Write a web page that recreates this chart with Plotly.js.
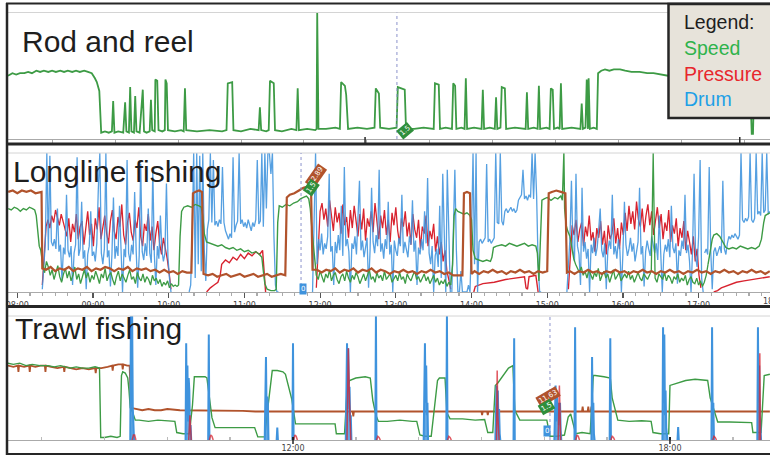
<!DOCTYPE html>
<html><head><meta charset="utf-8">
<script src="https://cdn.plot.ly/plotly-3.0.1.min.js"></script>
<style>html,body{margin:0;padding:0;background:#fff;}#chart{width:770px;height:455px;}</style>
</head><body><div id="chart"></div>
<script>
// ---------- Panel 1: Rod and reel (speed only) ----------
var rrTime = [7.30,7.37,7.43,7.49,7.56,7.62,7.68,7.75,7.81,7.87,7.94,8.00,8.06,8.13,8.19,8.25,8.32,8.38,8.44,8.51,8.57,8.63,8.68,8.71,8.75,8.78,
8.84,8.90,8.95,8.97,8.99,
9.05,9.13,9.16,9.18,
9.22,9.24,9.26,
9.30,9.32,9.34,
9.39,9.44,9.46,
9.50,9.55,9.57,9.59,
9.63,9.64,9.67,9.69,
9.75,9.79,9.80,9.82,9.84,
9.95,10.05,10.09,10.11,10.13,
10.30,10.50,10.70,10.77,10.79,10.86,10.88,
11.00,11.15,11.28,11.30,11.32,
11.40,11.44,11.46,11.52,11.54,
11.65,11.80,11.88,11.90,11.92,
12.05,12.18,12.20,12.21,12.23,
12.35,12.50,12.57,12.59,12.65,12.67,12.70,
12.85,13.00,13.12,13.14,13.19,13.21,
13.35,13.47,13.49,13.60,13.62,
13.75,13.90,14.06,14.08,14.14,14.16,
14.25,14.35,14.37,14.40,14.42,
14.50,14.55,14.57,14.59,
14.70,14.82,14.84,14.86,
14.95,15.03,15.05,15.07,
15.12,15.14,15.19,15.21,
15.35,15.52,15.54,15.56,
15.65,15.71,15.73,15.75,
15.85,15.90,15.92,15.95,15.97,
16.03,16.06,16.08,16.10,
16.25,16.39,16.41,16.43,
16.47,16.49,16.51,16.52,16.54,
16.60,16.65,16.67,
16.72,16.78,16.85,16.92,17.02,17.10,17.20,17.33,17.45,17.55,17.65,17.78,17.90,18.05,18.20,18.35,18.50,18.65,18.80,18.95,19.08,19.11,19.13,19.15,19.18,19.25,19.40];
var rrSpeed = [50,52,51,52,52,53,52,54,53,54,53,54,53,54,53,54,53,54,53,54,53,52,48,45,38,5,
6,5,6,30,5,
6,5,29,6,
5,41,6,
5,34,6,
5,39,6,
5,6,31,7,
6,47,46,7,
6,7,47,44,7,
6,7,6,40,7,
6,7,6,7,44,45,7,
6,8,7,25,7,
6,7,46,44,7,
6,8,7,40,7,
8,7,8,100,8,
8,9,8,45,42,35,8,
9,8,9,40,36,9,
8,9,41,39,8,
8,9,8,44,43,8,
9,8,44,42,8,
9,8,48,8,
9,8,39,8,
9,8,33,8,
9,41,40,8,
9,8,37,8,
9,8,42,8,
9,8,40,39,8,
9,8,44,8,
9,8,28,8,
9,47,8,48,8,
9,8,52,
54,55,54,55,55,54,53,53,52,52,51,50,51,50,51,50,51,50,50,51,50,4,4,50,51,50,50];

// ---------- Panel 2: Longline fishing ----------
var llTicks = [8,9,10,11,12,13,14,15,16,17];
var llTickText = ["08:00","09:00","10:00","11:00","12:00","13:00","14:00","15:00","16:00","17:00"];
var sampleStep = 0.025;   // hours between samples of noisy stretches
var drumStep = 0.02;

// pressure, noisy stretches (start hour, values)
var llPressA0 = 8.33;
var llPressA = [5,28,47,52,46,55,50,59,54,48,56,51,46,40,53,36,49,43,56,38,47,51,34,45,58,41,49,33,53,45,61,38,48,55,42,35,51,59,44,38,54,47,63,41,34,50,57,43,37,52,46,61,40,33,49,44,56,37,47,30,42,51,35,27,39,32,24,14,2];
var llPressC0 = 11.95;
var llPressC = [3,35,58,64,52,60,47,66,55,44,61,50,57,42,63,48,54,39,59,46,62,51,40,56,45,60,37,53,47,58,43,64,49,38,55,46,59,41,52,36,57,48,61,44,35,53,47,58,40,50,34,56,45,39,52,31,47,42,55,33,44,38,49,29,40,27,36,22,30,15,9,2];
var llPressE0 = 15.28;
var llPressE = [2,30,48,41,52,36,45,50,33,47,40,55,37,43,29,46,39,51,34,44,27,48,38,42,53,35,46,31,50,41,57,44,62,49,58,45,65,52,47,60,43,55,63,48,58,41,53,61,46,56,38,50,44,59,36,48,42,53,33,46,39,51,30,44,36,27,40,22,31,12,3];
// pressure, slow ramps
var llPressRampT = [10.50,10.55,10.60,10.65,10.68,10.70,10.75,10.80,10.85,10.90,10.95,11.00,11.05,11.10,11.15,11.20,11.24,11.26,11.28,null,
14.03,14.05,14.15,14.30,14.45,14.60,14.70,14.72,14.74,14.76,14.85,14.88,null,
17.20,17.25,17.30,17.40,17.50,17.60,17.70,17.80,17.90,17.94];
var llPressRamp = [0,3,5,7,12,20,23,21,25,23,27,24,28,26,29,27,30,12,0,null,
0,4,6,7,9,10,11,3,2,11,12,0,null,
0,1,3,5,7,8,9,10,11,11];

// drum, noisy stretches
var llDrumA0 = 8.33;
var llDrumA = [2,20,35,100,30,98,36,33,38,31,60,29,34,8,32,27,70,30,25,33,5,28,34,97,26,31,65,24,30,2,27,33,58,26,29,22,35,74,100,28,20,31,100,25,30,4,27,68,24,33,26,62,29,0,31,25,95,28,22,34,27,72,30,3,26,92,29,23,35,26,60,28,21,88,27,5,33,24,55,30,22,28,78,25,10,0];
var llDrumB0 = 10.27;
var llDrumB = [0,5,40,100,10,100,20,98,15,100,30,8,45,52,100,50,95,48,51,47,52,49,90,50,44,41,38,42,39,97,43,48,51,100,49,52,47,50,46,52,48,44,50,47,52,95,49,51,100,47,100,60,100,100,85,100,40,5,0,0];
var llDrumC0 = 11.90;
var llDrumC = [0,60,100,20,38,30,42,27,35,31,40,85,29,33,5,36,28,41,30,62,26,90,33,38,29,0,35,31,40,27,57,80,30,37,25,34,39,3,30,75,36,28,41,33,88,29,35,24,38,31,65,27,34,0,37,30,26,39,33,70,28,36,31,25,40,34,66,29,37,5,32,27,38,30,58,35,82,28,20,33,0,26,31,18,62,10,85,40,0,88,30,0];
var llDrumD0 = 13.74;
var llDrumD = [0,40,88,30,0,0,15,0,0,0,0,5,0,40,100,20,100,0,36,38,35,37,39,92,36,38,35,37,39,100,50,49,100,51,48,58,60,57,59,61,58,60,57,59,66,68,70,88,67,69,66,70,68,100,67,100,69,20,0,0];
var llDrumE0 = 15.26;
var llDrumE = [0,25,38,80,30,22,85,33,27,5,75,29,36,24,31,0,34,28,39,26,32,45,60,30,25,35,2,29,37,31,70,27,33,24,38,30,0,28,65,34,26,31,39,29,35,22,30,36,75,27,33,4,29,37,31,26,40,33,28,35,23,55,31,0,27,34,29,38,25,62,32,28,35,6,30,26,37,31,70,28,34,22,0,30,85,25,18,40,95,10,0];
var llDrumF0 = 17.08;
var llDrumF = [28,31,27,90,30,2,29,32,26,30,33,28,80,31,27,35,40,38,41,39,42,40,38,41,100,52,50,53,51,54,100,52,50,53,100,56,58,55,100,57,59,100,56,58];

// speed
var llSpeedStepT = [7.88,7.92,7.96,8.00,8.04,8.08,8.12,8.16,8.20,8.23,8.25,8.27,8.29,8.31,8.33,8.36,null,
10.11,10.13,10.15,10.17,10.20,10.25,10.30,10.35,10.40,10.43,10.45,10.47,10.50,10.55,10.60,10.65,10.70,10.75,10.80,10.85,10.90,10.95,11.00,11.05,11.10,11.15,11.20,11.23,11.25,11.27,11.30,11.35,11.40,11.42,11.44,11.46,11.50,11.55,11.60,11.65,11.70,11.74,11.78,11.82,11.85,11.87,11.90,11.93,11.95,null,
13.725,13.75,13.77,13.79,13.82,13.86,13.90,13.94,13.98,14.00,14.02,14.05,14.10,14.15,14.20,14.25,14.27,14.29,14.33,14.40,14.45,14.50,14.55,14.60,14.65,14.70,14.75,14.80,14.85,14.87,14.89,14.91,14.93,14.96,15.00,15.05,15.10,15.14,15.18,15.20,15.22,15.23,15.25,15.27,15.30,null,
17.125,17.15,17.18,17.20,17.24,17.28,17.32,17.36,17.40,17.45,17.50,17.55,17.60,17.65,17.70,17.75,17.80,17.83,17.86,17.88,17.91,17.94];
var llSpeedStep = [60,59,61,60,58,60,59,61,60,59,55,42,33,30,22,14,null,
4,5,40,58,61,62,61,63,62,61,55,42,36,35,34,33,34,32,31,32,30,31,29,30,28,29,27,25,15,6,2,1,1,2,50,62,61,63,62,64,65,67,68,69,67,60,40,22,12,null,
5,20,55,60,58,57,56,57,55,52,30,24,23,22,23,22,25,32,33,34,33,35,34,33,34,35,33,34,33,28,8,40,66,67,68,66,68,67,69,66,100,60,48,44,40,null,
20,28,38,41,42,40,36,32,31,32,31,33,32,31,32,31,33,38,50,55,56,57];
var llSpeedA0 = 8.36;
var llSpeedA = [14,22,18,12,16,9,14,19,11,7,13,17,10,15,8,12,18,9,13,6,11,16,10,14,7,12,9,15,11,6,13,10,17,8,12,14,9,5,11,15,8,13,10,7,12,16,9,11,6,14,10,8,13,7,11,9,5,12,8,10,6,9,4,7,5,8,3,6,4,5,4];
var llSpeedC0 = 11.95;
var llSpeedC = [12,9,15,11,7,13,10,16,8,12,14,9,6,11,13,8,15,10,7,12,9,14,11,6,10,13,8,12,16,9,11,7,14,10,12,8,15,9,11,13,7,10,12,8,14,9,11,6,13,10,8,12,15,9,11,7,10,13,8,11,6,9,12,7,10,5,8,6,9,4,7,5];
var llSpeedE0 = 15.30;
var llSpeedE = [40,30,24,20,17,14,18,12,15,10,16,13,9,14,11,17,8,12,15,10,13,7,11,16,9,12,14,8,11,13,10,15,9,12,7,11,14,10,8,13,11,9,12,15,100,10,7,13,11,9,14,8,12,10,6,11,9,13,7,10,8,12,5,9,11,7,6,10,5,8,4,7,12,20];

// line (brown) channel
var llLineT = [7.88,7.94,8.00,8.06,8.12,8.18,8.24,8.30,8.32,8.33,
8.38,8.44,8.50,8.56,8.62,8.68,8.74,8.80,8.86,8.92,8.98,9.04,9.10,9.16,9.22,9.28,9.34,9.40,9.46,9.52,9.58,9.64,9.70,9.76,9.82,9.88,9.94,10.00,10.06,10.12,10.18,10.24,10.30,10.32,
10.35,10.40,10.44,10.46,
10.52,10.58,10.64,10.70,10.76,10.82,10.88,10.94,11.00,11.06,11.12,11.18,11.24,11.30,11.36,11.42,11.48,11.54,11.56,
11.60,11.66,11.72,11.78,11.84,11.88,11.90,
11.96,12.02,12.08,12.14,12.20,12.26,12.32,12.38,12.44,12.50,12.56,12.62,12.68,12.74,12.80,12.86,12.92,12.98,13.04,13.10,13.16,13.22,13.28,13.34,13.40,13.46,13.52,13.58,13.64,13.70,13.76,13.82,13.88,13.90,
13.94,13.98,14.00,
14.04,14.10,14.16,14.22,14.28,14.34,14.40,14.46,14.52,14.58,14.64,14.70,14.76,14.82,14.88,14.94,15.00,15.02,
15.06,15.12,15.18,15.24,15.26,
15.30,15.36,15.42,15.48,15.54,15.60,15.66,15.72,15.78,15.84,15.90,15.96,16.02,16.08,16.14,16.20,16.26,16.32,16.38,16.44,16.50,16.56,16.62,16.68,16.74,16.80,16.86,16.92,16.98,17.04,17.10,17.16,17.22,17.28,17.34,17.40,17.46,17.52,17.58,17.64,17.70,17.76,17.82,17.88,17.94];
var llLine = [72,73,71,73,72,73,71,72,72,17,
16,18,15,17,16,18,15,17,16,18,15,17,16,18,17,15,17,16,18,15,17,16,17,15,16,14,16,14,15,13,15,14,14,71,
72,73,72,13,
12,13,11,12,13,11,12,13,11,12,13,11,12,13,11,12,13,12,68,
70,71,73,75,76,75,16,
16,14,16,15,17,14,16,15,17,14,16,15,17,14,16,15,13,15,14,16,14,15,13,15,14,16,14,15,13,14,12,12,12,71,
72,71,13,
15,13,15,14,16,14,15,13,15,14,16,14,15,13,15,14,15,71,
72,73,72,71,14,
15,13,15,14,16,14,15,13,15,14,16,14,15,13,15,14,16,14,15,13,15,14,16,14,15,13,15,14,16,14,15,13,15,14,16,14,15,13,15,14,16,14,15,13,15];

// ---------- Panel 3: Trawl fishing ----------
var twTicks = [12,18];
var twTickText = ["12:00","18:00"];
var twSpeedT = [7.46,7.55,7.65,7.75,7.85,7.97,8.10,8.20,8.30,8.45,8.55,8.65,8.75,8.85,8.92,
8.94,9.00,9.10,9.20,9.25,
9.27,9.29,9.33,9.37,9.39,9.41,9.45,9.49,
9.55,9.70,9.85,10.00,10.12,
10.15,10.25,10.35,
10.40,10.43,10.50,10.60,10.63,10.66,10.71,10.76,
10.90,11.10,11.30,11.39,
11.44,11.55,11.60,11.67,11.75,11.84,11.88,11.98,12.04,
12.20,12.40,12.60,12.67,
12.69,12.82,12.86,12.90,13.00,13.15,13.23,13.27,13.32,13.36,
13.50,13.70,13.90,13.97,
14.02,14.10,14.20,14.30,14.33,14.42,14.45,14.50,
14.70,14.90,15.05,
15.10,15.18,15.22,15.26,15.34,15.43,15.50,15.53,15.61,
15.75,15.90,16.04,
16.09,16.20,16.32,16.38,16.42,16.50,16.60,16.73,
16.78,16.81,16.95,17.05,17.08,17.17,
17.35,17.55,17.70,
17.73,17.85,17.98,18.00,18.12,18.25,18.40,18.50,18.60,18.64,18.76,
18.95,19.15,19.30,
19.32,19.45,19.50,19.59];
var twSpeed = [62,61,62,60,61,60,60,59,60,58,59,58,58,59,58,
2,2,3,2,3,
52,55,54,50,40,26,22,16,
16,15,16,15.5,15,
6,5,5,
28,51,51,51,50,36,18,10,
10,9.5,10,10,
2.5,2.5,26,56,56,55,53,33,13,
13,13.5,13,13,
5,5,40,48,50,51,50,32,20,15,
15,16,15,15,
4,3,3,48,50,50,22,17,
17,16,16.5,
6,6,44,46,52,58,60,24,16,
16,16.5,16,
3,3,4,18.5,21,5,6,5,
52,52,51,50,34,16,
15,15.5,15,
6,5,5,44,46,48,49,48.5,48,34,14.5,
14.5,14.5,14,
6,6,52,53];
var twLineT = [7.46,7.55,7.62,7.63,7.64,7.72,7.80,7.81,7.82,7.90,7.98,8.05,8.06,8.07,8.15,8.25,8.35,8.36,8.37,8.45,8.55,8.65,8.75,8.85,8.86,8.87,8.95,9.05,9.12,9.13,9.14,9.22,9.28,9.29,9.30,9.36,9.40,
9.42,9.50,9.60,9.70,9.80,9.90,10.00,10.20,10.40,10.60,10.80,11.00,11.20,11.40,11.60,12.00,12.40,12.84,12.85,12.86,12.95,12.96,12.97,13.40,14.00,14.40,15.00,15.01,15.02,15.09,15.10,15.11,15.60,16.20,16.60,16.61,16.62,16.69,16.70,16.71,16.74,16.75,16.76,17.20,17.80,18.40,19.00,19.59];
var twLine = [60,59,60,55,60,59,60,55,60,59,60,60,55,60,59,58,59,55,59,58,57,58,57,58,54,58,58,59,60,56,60,61,61,57,61,60,60,
26,25,24,25,24,24,25,24,24,24,23.5,24,23.5,23,23,23,23,23,19,23,23,19,23,23,23,23,23,20,23,23,20,23,23,23,23,27,23,23,27,23,23,27,23,23,23,23,23,23];
var twDrumT = [9.41,9.42,9.43,9.44,9.45,9.46,9.47,null,
10.29,10.30,10.31,10.32,10.33,10.34,10.35,10.36,10.37,10.38,null,
10.65,10.66,10.67,null,
11.55,11.56,11.57,11.58,11.59,11.60,11.61,null,
11.74,11.75,11.76,null,
11.99,12.00,12.01,null,
12.84,12.85,12.86,12.87,12.88,12.89,12.90,12.91,12.92,12.93,null,
13.31,13.32,13.33,null,
14.08,14.09,14.10,14.11,14.12,14.13,14.14,14.15,null,
14.44,14.45,14.46,null,
15.22,15.23,15.24,15.25,15.26,15.27,15.28,15.29,15.30,null,
15.51,15.52,15.53,null,
16.16,16.17,16.18,16.19,16.20,16.21,16.22,16.23,16.24,16.25,16.26,16.27,null,
16.48,16.49,16.50,null,
16.75,16.76,16.77,16.78,16.79,16.80,null,
17.04,17.05,17.06,null,
17.88,17.89,17.90,17.91,17.92,17.93,17.94,17.95,17.96,null,
18.12,18.13,18.14,null,
18.66,18.67,18.68,18.69,18.70,null,
19.39,19.40,19.41,19.42,19.43,19.44,19.45];
var twDrum = [0,100,30,100,26,10,0,null,
0,78,20,60,15,50,40,8,12,0,null,
0,85,0,null,
0,40,67,20,35,30,0,null,
0,10,0,null,
0,78,0,null,
0,60,78,25,74,40,43,15,20,0,null,
0,100,0,null,
0,50,78,30,60,20,30,0,null,
0,100,0,null,
0,35,44,20,40,15,25,5,0,null,
0,82,0,null,
0,30,44,15,38,20,30,12,25,30,8,0,null,
0,91,0,null,
0,67,20,30,5,0,null,
0,82,0,null,
0,91,30,85,20,40,10,5,0,null,
0,10.5,0,null,
0,91,15,30,0,null,
0,91,30,60,20,8,0];
var twPressT = [9.44,9.46,9.48,9.50,null,10.34,10.36,10.38,null,10.67,10.69,10.71,10.73,null,12.01,12.03,12.05,12.07,null,12.86,12.88,12.90,12.92,null,13.33,13.35,13.37,13.39,null,14.46,14.48,14.50,14.52,null,15.24,15.25,15.26,15.28,null,16.22,16.24,16.26,null,16.50,16.52,16.54,16.56,null,17.06,17.08,17.10,17.12,null,18.68,18.70,18.72,18.74,null,19.42,19.43,19.44];
var twPress = [0,4,4,0,null,0,20,0,null,0,4,3,0,null,0,4,3,0,null,0,74,30,0,null,0,3,2,0,null,0,3,2,0,null,0,56,20,0,null,0,44,0,null,0,4,3,0,null,0,3,2,0,null,0,3,2,0,null,0,70,0];

// ---------- drawing ----------
var C = {speed:'#3d9b45', press:'#d8232f', drum:'#3f93dd', line:'#b1532c'};
var W = 770, H = 455, L = 8;
function X(px){ return (px - L) / (W - L); }
function Y(py){ return 1 - py / H; }

function ln(xa, ya, x, y, color, width, extra){
  var t = {type:'scatter', mode:'lines', xaxis:xa, yaxis:ya, x:x, y:y,
    line:{color:color, width:width}, hoverinfo:'skip', connectgaps:false};
  if (extra) for (var k in extra) t[k] = extra[k];
  return t;
}
function reg(xa, ya, x0, dx, y, color, width, extra){
  var t = {type:'scatter', mode:'lines', xaxis:xa, yaxis:ya, x0:x0, dx:dx, y:y,
    line:{color:color, width:width}, hoverinfo:'skip'};
  if (extra) for (var k in extra) t[k] = extra[k];
  return t;
}

var traces = [
  ln('x','y', rrTime, rrSpeed, C.speed, 1.8),

  reg('x2','y2', llPressA0, sampleStep, llPressA, C.press, 1.3),
  reg('x2','y2', llPressC0, sampleStep, llPressC, C.press, 1.3),
  reg('x2','y2', llPressE0, sampleStep, llPressE, C.press, 1.3),
  ln('x2','y2', llPressRampT, llPressRamp, C.press, 1.4),
  reg('x2','y2', llDrumA0, drumStep, llDrumA, C.drum, 1.3, {opacity:0.88}),
  reg('x2','y2', llDrumB0, drumStep, llDrumB, C.drum, 1.3, {opacity:0.88}),
  reg('x2','y2', llDrumC0, drumStep, llDrumC, C.drum, 1.3, {opacity:0.88}),
  reg('x2','y2', llDrumD0, drumStep, llDrumD, C.drum, 1.3, {opacity:0.88}),
  reg('x2','y2', llDrumE0, drumStep, llDrumE, C.drum, 1.3, {opacity:0.88}),
  reg('x2','y2', llDrumF0, drumStep, llDrumF, C.drum, 1.3, {opacity:0.88}),
  ln('x2','y2', llSpeedStepT, llSpeedStep, C.speed, 1.4),
  reg('x2','y2', llSpeedA0, sampleStep, llSpeedA, C.speed, 1.3),
  reg('x2','y2', llSpeedC0, sampleStep, llSpeedC, C.speed, 1.3),
  reg('x2','y2', llSpeedE0, sampleStep, llSpeedE, C.speed, 1.3),
  ln('x2','y2', llLineT, llLine, C.line, 2.2),

  ln('x3','y3', twLineT, twLine, C.line, 1.8),
  ln('x3','y3', twSpeedT, twSpeed, C.speed, 1.4),
  ln('x3','y3', twDrumT, twDrum, C.drum, 2, {fill:'tozeroy', fillcolor:'rgba(63,147,221,0.8)'}),
  ln('x3','y3', twPressT, twPress, C.press, 1.5, {opacity:0.75})
];

var R1 = [7.30, 19.40], R2 = [7.877, 17.943], R3 = [7.464, 19.592];
var baseX = {showgrid:false, zeroline:false, showline:true, linecolor:'#aaaaaa', linewidth:1,
  fixedrange:true, tickfont:{family:'DejaVu Sans', size:8, color:'#444'}};
function ax(o){ var r = {}; for (var k in baseX) r[k] = baseX[k]; for (var k2 in o) r[k2] = o[k2]; return r; }
var baseY = {range:[0,100], showgrid:false, zeroline:false, showticklabels:false, ticks:'', showline:false, fixedrange:true};
function ay(o){ var r = {}; for (var k in baseY) r[k] = baseY[k]; for (var k2 in o) r[k2] = o[k2]; return r; }

var dark = '#262626';
var shapes = [
  // light top lines of each panel
  {type:'line', xref:'paper', yref:'paper', x0:0, x1:1, y0:Y(12.5), y1:Y(12.5), line:{color:'#d4d4d4', width:1}},
  {type:'line', xref:'paper', yref:'paper', x0:0, x1:1, y0:Y(153), y1:Y(153), line:{color:'#d4d4d4', width:1}},
  {type:'line', xref:'paper', yref:'paper', x0:0, x1:1, y0:Y(316), y1:Y(316), line:{color:'#d4d4d4', width:1}},
  // dark frame
  {type:'line', xref:'paper', yref:'paper', x0:X(7), x1:X(7), y0:Y(3), y1:Y(455), line:{color:dark, width:2.5}},
  {type:'line', xref:'paper', yref:'paper', x0:X(6), x1:X(772), y0:Y(3.5), y1:Y(3.5), line:{color:dark, width:2}},
  {type:'line', xref:'paper', yref:'paper', x0:X(6), x1:X(772), y0:Y(144), y1:Y(144), line:{color:dark, width:3}},
  {type:'line', xref:'paper', yref:'paper', x0:X(6), x1:X(772), y0:Y(306.5), y1:Y(306.5), line:{color:dark, width:3}},
  {type:'line', xref:'paper', yref:'paper', x0:X(6), x1:X(772), y0:Y(454), y1:Y(454), line:{color:dark, width:2}},
  // darker ticks on rod and reel axis
  {type:'line', xref:'x', yref:'paper', x0:12.97, x1:12.97, y0:Y(137), y1:Y(143), line:{color:dark, width:1.5}},
  {type:'line', xref:'x', yref:'paper', x0:18.92, x1:18.92, y0:Y(137), y1:Y(143), line:{color:dark, width:1.5}},
  // lower part of the major trawl ticks
  {type:'line', xref:'x3', yref:'paper', x0:12, x1:12, y0:Y(440), y1:Y(444), line:{color:'#222', width:1.5}},
  {type:'line', xref:'x3', yref:'paper', x0:18, x1:18, y0:Y(440), y1:Y(444), line:{color:'#222', width:1.5}},
  // cursor lines
  {type:'line', xref:'x', yref:'y domain', x0:13.476, x1:13.476, y0:0, y1:1, line:{color:'#8c93cc', width:1, dash:'dot'}},
  {type:'line', xref:'x2', yref:'y2 domain', x0:11.748, x1:11.748, y0:0, y1:1, line:{color:'#8c93cc', width:1, dash:'dot'}},
  {type:'line', xref:'x3', yref:'y3 domain', x0:16.09, x1:16.09, y0:0, y1:1, line:{color:'#8c93cc', width:1, dash:'dot'}},
  // legend box
  {type:'rect', xref:'paper', yref:'paper', x0:X(668.5), x1:X(775), y0:Y(118), y1:Y(4), layer:'above',
   fillcolor:'#e7e3da', line:{color:dark, width:2.5}}
];

function title(text, px, py){
  return {xref:'paper', yref:'paper', x:X(px), y:Y(py), xanchor:'left', yanchor:'middle', showarrow:false,
    text:text, font:{family:'Liberation Sans, Arial, sans-serif', size:30, color:'#1e1e1e'}};
}
function leg(text, py, color){
  return {xref:'paper', yref:'paper', x:X(682), y:Y(py), xanchor:'left', yanchor:'middle', showarrow:false,
    text:text, font:{family:'Liberation Sans, Arial, sans-serif', size:19.5, color:color}};
}
function tag(text, px, py, angle, bg){
  return {xref:'paper', yref:'paper', x:X(px), y:Y(py), showarrow:false, text:text, textangle:angle,
    bgcolor:bg, borderpad:1, font:{family:'DejaVu Sans', size:7, color:'#ffffff'}};
}
function frac(h, r){ return (h - r[0]) / (r[1] - r[0]); }

var annotations = [
  title('Rod and reel', 20, 41),
  title('Longline fishing', 11, 171),
  title('Trawl fishing', 13, 328),
  leg('Legend:', 22, '#1e1e1e'),
  leg('Speed', 48, '#2fb34c'),
  leg('Pressure', 74, '#e8262c'),
  leg('Drum', 99, '#1ea0e6'),
  tag('1.5', 405, 122, -40, '#2f8f3c'),
  tag('12.89', 316, 176, -55, '#b1532c'),
  tag('1.5', 311, 188, -55, '#2f8f3c'),
  tag('0', 303, 289, 0, C.drum),
  tag('11.63', 561, 408, -30, '#b1532c'),
  tag('1.5', 556, 416, -30, '#2f8f3c'),
  tag('0', 551, 437, 0, C.drum),
  {xref:'paper', yref:'paper', x:frac(18, R2), y:Y(301.5), xanchor:'center', yanchor:'middle', showarrow:false,
   text:'18:00', font:{family:'DejaVu Sans', size:8, color:'#444'}}
];

var layout = {
  width:W, height:H, margin:{l:L, r:0, t:0, b:0}, paper_bgcolor:'#ffffff', plot_bgcolor:'#ffffff',
  showlegend:false, hovermode:false,
  xaxis: ax({anchor:'y', range:R1, tickmode:'array', tickvals:[8,9,10,11,12,13,14,15,16,17,18,19],
    showticklabels:false, ticks:'outside', ticklen:4, tickcolor:'#aaaaaa'}),
  yaxis: ay({domain:[Y(139), Y(12.5)], anchor:'x'}),
  xaxis2: ax({anchor:'y2', range:R2, tickmode:'array', tickvals:llTicks, ticktext:llTickText,
    ticks:'outside', ticklen:5, tickcolor:'#555', tickwidth:1.2,
    minor:{tickmode:'linear', tick0:8, dtick:1/6, ticks:'outside', ticklen:3, tickcolor:'#aaaaaa'}}),
  yaxis2: ay({domain:[Y(292), Y(153)], anchor:'x2'}),
  xaxis3: ax({anchor:'y3', range:R3, tickmode:'array', tickvals:twTicks, ticktext:twTickText,
    ticks:'inside', ticklen:3, tickcolor:'#222', tickwidth:1.5,
    minor:{tickmode:'linear', tick0:0, dtick:1, ticks:'inside', ticklen:3, tickcolor:'#bbbbbb'}}),
  yaxis3: ay({domain:[Y(440), Y(316)], anchor:'x3'}),
  shapes: shapes,
  annotations: annotations
};

Plotly.newPlot('chart', traces, layout, {staticPlot:true, displayModeBar:false});
</script>
</body></html>
